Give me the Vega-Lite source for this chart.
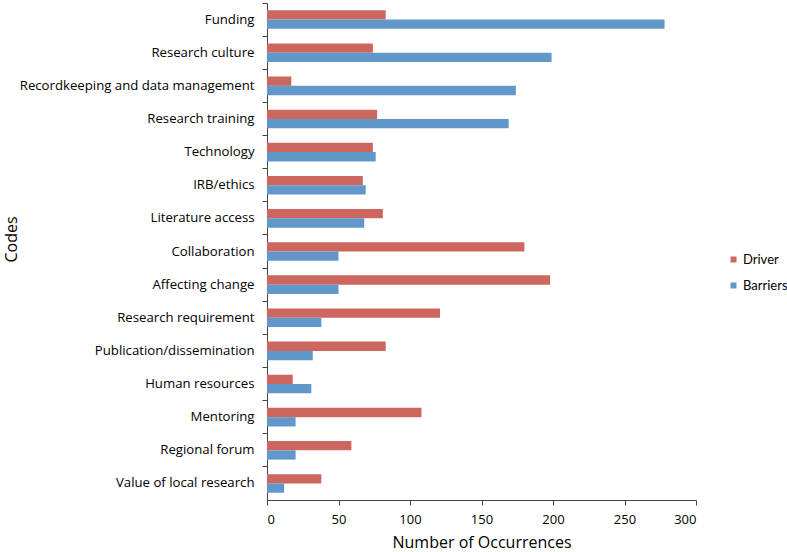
{
  "$schema": "https://vega.github.io/schema/vega-lite/v6.json",
  "width": 429,
  "height": 497,
  "autosize": "none",
  "padding": {"left": 267, "top": 3, "right": 91, "bottom": 52},
  "background": "white",
  "config": {
    "view": {"stroke": null},
    "font": "Open Sans",
    "axis": {"labelFont": "Open Sans", "titleFont": "Open Sans", "labelColor": "#000", "titleColor": "#000", "domainColor": "#444", "tickColor": "#444", "grid": false, "titleFontWeight": "normal"}
  },
  "data": {
    "values": [
      {"code": "Funding", "series": "Driver", "value": 83},
      {"code": "Funding", "series": "Barriers", "value": 278},
      {"code": "Research culture", "series": "Driver", "value": 74},
      {"code": "Research culture", "series": "Barriers", "value": 199},
      {"code": "Recordkeeping and data management", "series": "Driver", "value": 17},
      {"code": "Recordkeeping and data management", "series": "Barriers", "value": 174},
      {"code": "Research training", "series": "Driver", "value": 77},
      {"code": "Research training", "series": "Barriers", "value": 169},
      {"code": "Technology", "series": "Driver", "value": 74},
      {"code": "Technology", "series": "Barriers", "value": 76},
      {"code": "IRB/ethics", "series": "Driver", "value": 67},
      {"code": "IRB/ethics", "series": "Barriers", "value": 69},
      {"code": "Literature access", "series": "Driver", "value": 81},
      {"code": "Literature access", "series": "Barriers", "value": 68},
      {"code": "Collaboration", "series": "Driver", "value": 180},
      {"code": "Collaboration", "series": "Barriers", "value": 50},
      {"code": "Affecting change", "series": "Driver", "value": 198},
      {"code": "Affecting change", "series": "Barriers", "value": 50},
      {"code": "Research requirement", "series": "Driver", "value": 121},
      {"code": "Research requirement", "series": "Barriers", "value": 38},
      {"code": "Publication/dissemination", "series": "Driver", "value": 83},
      {"code": "Publication/dissemination", "series": "Barriers", "value": 32},
      {"code": "Human resources", "series": "Driver", "value": 18},
      {"code": "Human resources", "series": "Barriers", "value": 31},
      {"code": "Mentoring", "series": "Driver", "value": 108},
      {"code": "Mentoring", "series": "Barriers", "value": 20},
      {"code": "Regional forum", "series": "Driver", "value": 59},
      {"code": "Regional forum", "series": "Barriers", "value": 20},
      {"code": "Value of local research", "series": "Driver", "value": 38},
      {"code": "Value of local research", "series": "Barriers", "value": 12}
    ]
  },
  "mark": {"type": "bar"},
  "encoding": {
    "y": {
      "field": "code", "type": "nominal", "sort": null,
      "scale": {"paddingInner": 0, "paddingOuter": 0},
      "axis": {"title": "Codes", "titleFontSize": 16, "labelFontSize": 13.2, "labelLimit": 0, "tickSize": 5, "labelPadding": 8, "bandPosition": 0, "titleX": -256, "titleY": 236, "titleBaseline": "middle", "titleAlign": "center", "titleAngle": -90}
    },
    "yOffset": {
      "field": "series", "type": "nominal", "sort": ["Driver", "Barriers"],
      "scale": {"paddingInner": 0, "paddingOuter": 0.78}
    },
    "x": {
      "field": "value", "type": "quantitative",
      "scale": {"domain": [0, 300], "nice": false},
      "axis": {"title": "Number of Occurrences", "titleFontSize": 16, "labelFontSize": 13, "values": [0, 50, 100, 150, 200, 250, 300], "tickSize": 5, "labelPadding": 8, "titleY": 42, "titleBaseline": "middle"}
    },
    "color": {
      "field": "series", "type": "nominal", "sort": ["Driver", "Barriers"],
      "scale": {"domain": ["Driver", "Barriers"], "range": ["#CD665F", "#6197CB"]},
      "legend": {"title": null, "orient": "none", "legendX": 460, "legendY": 250, "symbolType": "square", "symbolSize": 36, "labelFontSize": 13, "labelFont": "Lato", "labelColor": "#000", "rowPadding": 12, "labelOffset": 3}
    }
  }
}
